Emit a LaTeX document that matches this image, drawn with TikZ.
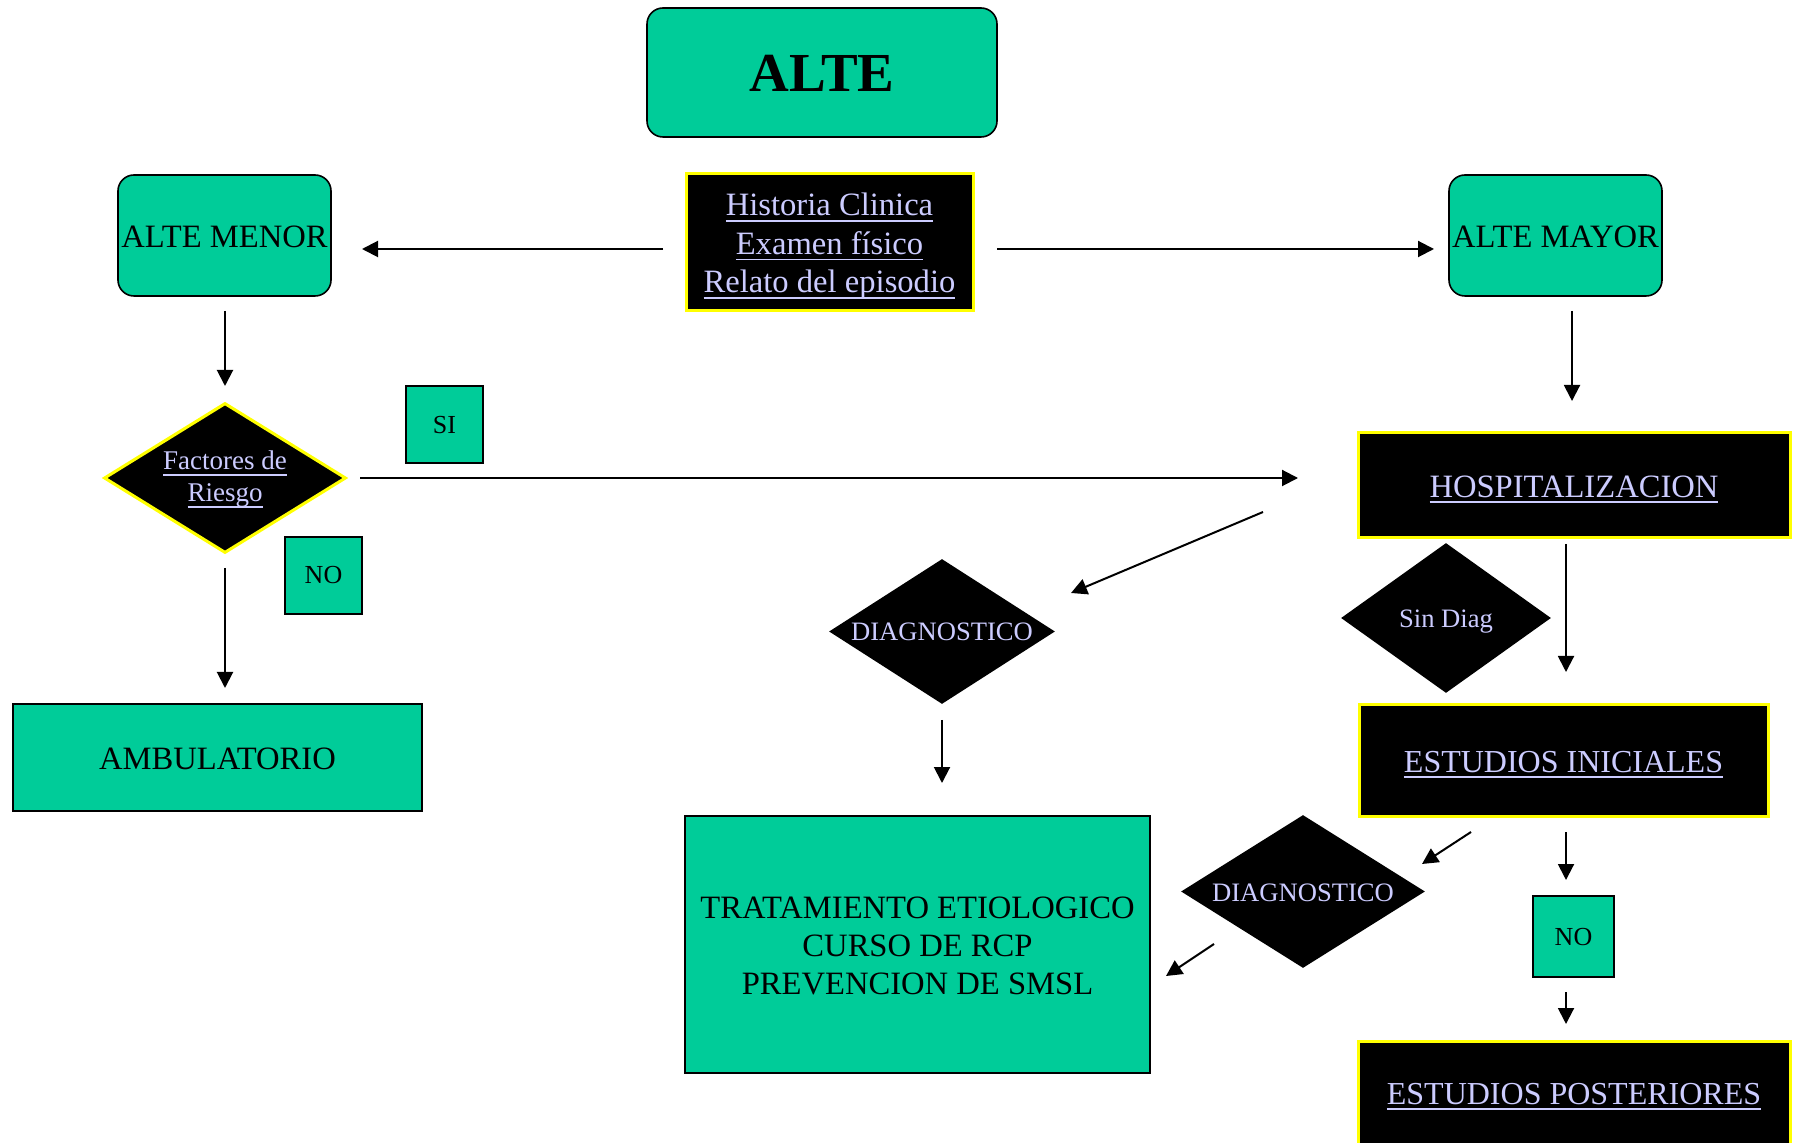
\documentclass[tikz,border=0pt]{standalone}
\usepackage{fontspec}
\setmainfont{Liberation Serif}
\usetikzlibrary{shapes.geometric,arrows.meta}
\definecolor{grn}{HTML}{00CC99}
\definecolor{lav}{HTML}{CCCCFF}
\definecolor{yel}{HTML}{FFFF00}
\newcommand{\myul}[1]{{\setbox0\hbox{#1}\rlap{\rule[-3pt]{\wd0}{0.9pt}}\box0}}
\newcommand{\lines}[1]{\begin{tabular}[t]{@{}c@{}}#1\end{tabular}}
\begin{document}
\begin{tikzpicture}[x=0.5pt,y=-0.5pt,
  gbox/.style={draw=black, line width=0.8pt, fill=grn, inner sep=0pt, align=center, font=\fontsize{16.3}{19}\selectfont},
  rgbox/.style={gbox, rounded corners=8pt},
  kbox/.style={draw=yel, line width=1.5pt, fill=black, text=lav, inner sep=0pt, align=center, font=\fontsize{16.3}{19}\selectfont},
  kdia/.style={diamond, aspect=1.6, fill=black, text=lav, inner sep=0pt, align=center, font=\fontsize{13.3}{16}\selectfont},
  smallbox/.style={gbox, font=\fontsize{13}{15}\selectfont},
  bl/.style={text height=#1, text depth=0pt},
  arr/.style={-{Triangle[width=8pt,length=8pt]}, line width=1pt}]
\useasboundingbox (0,0) rectangle (1793,1143);

% nodes
\node[rgbox, minimum width=175pt, minimum height=64.5pt, font=\fontsize{27.5}{30}\selectfont\bfseries, bl=19.2pt] (alte) at (822,72.5) {ALTE};
\node[kbox, minimum width=143.5pt, minimum height=68.5pt, font=\fontsize{16.3}{19.25}\selectfont, text height=0pt, text depth=26.5pt] (hist) at (829.5,242.5) {\lines{\myul{Historia Clinica}\\\myul{Examen físico}\\\myul{Relato del episodio}}};
\node[rgbox, minimum width=106.5pt, minimum height=60.5pt, bl=11.6pt] (menor) at (224.5,235.5) {ALTE MENOR};
\node[rgbox, minimum width=106.5pt, minimum height=60.5pt, bl=11.6pt] (mayor) at (1555.5,235.5) {ALTE MAYOR};
\node[kdia, draw=yel, line width=1.5pt, minimum width=121pt, minimum height=75pt, font=\fontsize{13.5}{16}\selectfont, text height=0pt, text depth=8pt] (fact) at (225,478) {\lines{\myul{Factores de}\\\myul{Riesgo}}};
\node[smallbox, minimum width=38.5pt, minimum height=38.5pt, bl=8.8pt] (si) at (444.5,424.5) {SI};
\node[smallbox, minimum width=38.5pt, minimum height=38.5pt, bl=8.5pt] (no1) at (323.5,575.5) {NO};
\node[gbox, minimum width=204.5pt, minimum height=53.5pt, bl=11.8pt] (ambu) at (217.5,757.5) {AMBULATORIO};
\node[kbox, minimum width=216pt, minimum height=52.5pt, bl=11.8pt] (hosp) at (1574,485.5) {\myul{HOSPITALIZACION}};
\node[kdia, minimum width=105pt, minimum height=75pt, bl=9.3pt] (sind) at (1446,618) {Sin Diag};
\node[kdia, minimum width=113pt, minimum height=72.5pt, bl=9.5pt] (diag1) at (942,631.5) {DIAGNOSTICO};
\node[kbox, minimum width=204.5pt, minimum height=55.5pt, bl=11.5pt, font=\fontsize{16}{19}\selectfont] (estini) at (1563.5,760.5) {\myul{ESTUDIOS INICIALES}};
\node[kdia, minimum width=122pt, minimum height=76.5pt, bl=10pt] (diag2) at (1303,891.5) {DIAGNOSTICO};
\node[smallbox, minimum width=40.5pt, minimum height=40.5pt, bl=9.2pt] (no2) at (1573.5,936.5) {NO};
\node[gbox, minimum width=232.5pt, minimum height=128.5pt, text height=0pt, text depth=26.2pt] (trat) at (917.5,944.5) {\lines{TRATAMIENTO ETIOLOGICO\\CURSO DE RCP\\PREVENCION DE SMSL}};
\node[kbox, minimum width=216pt, minimum height=59pt, bl=4pt, font=\fontsize{16}{19}\selectfont] (estpost) at (1574,1100) {\myul{ESTUDIOS POSTERIORES}};

% connector end points (arrows do not touch the shapes)
\coordinate (a1s) at (663,249);   \coordinate (a1e) at (362,249);
\coordinate (a2s) at (997,249);   \coordinate (a2e) at (1434,249);
\coordinate (a3s) at (225,311);   \coordinate (a3e) at (225,386);
\coordinate (a4s) at (1572,311);  \coordinate (a4e) at (1572,401);
\coordinate (a5s) at (360,478);   \coordinate (a5e) at (1298,478);
\coordinate (a6s) at (225,568);   \coordinate (a6e) at (225,688);
\coordinate (a7s) at (1263,512);  \coordinate (a7e) at (1071,593);
\coordinate (a8s) at (942,720);   \coordinate (a8e) at (942,783);
\coordinate (a9s) at (1566,544);  \coordinate (a9e) at (1566,672);
\coordinate (a10s) at (1471,832); \coordinate (a10e) at (1422,864);
\coordinate (a11s) at (1214,944); \coordinate (a11e) at (1166,976);
\coordinate (a12s) at (1566,832); \coordinate (a12e) at (1566,880);
\coordinate (a13s) at (1566,992); \coordinate (a13e) at (1566,1024);

\draw[arr] (a1s) -- (a1e);
\draw[arr] (a2s) -- (a2e);
\draw[arr] (a3s) -- (a3e);
\draw[arr] (a4s) -- (a4e);
\draw[arr] (a5s) -- (a5e);
\draw[arr] (a6s) -- (a6e);
\draw[arr] (a7s) -- (a7e);
\draw[arr] (a8s) -- (a8e);
\draw[arr] (a9s) -- (a9e);
\draw[arr] (a10s) -- (a10e);
\draw[arr] (a11s) -- (a11e);
\draw[arr] (a12s) -- (a12e);
\draw[arr] (a13s) -- (a13e);
\end{tikzpicture}
\end{document}
